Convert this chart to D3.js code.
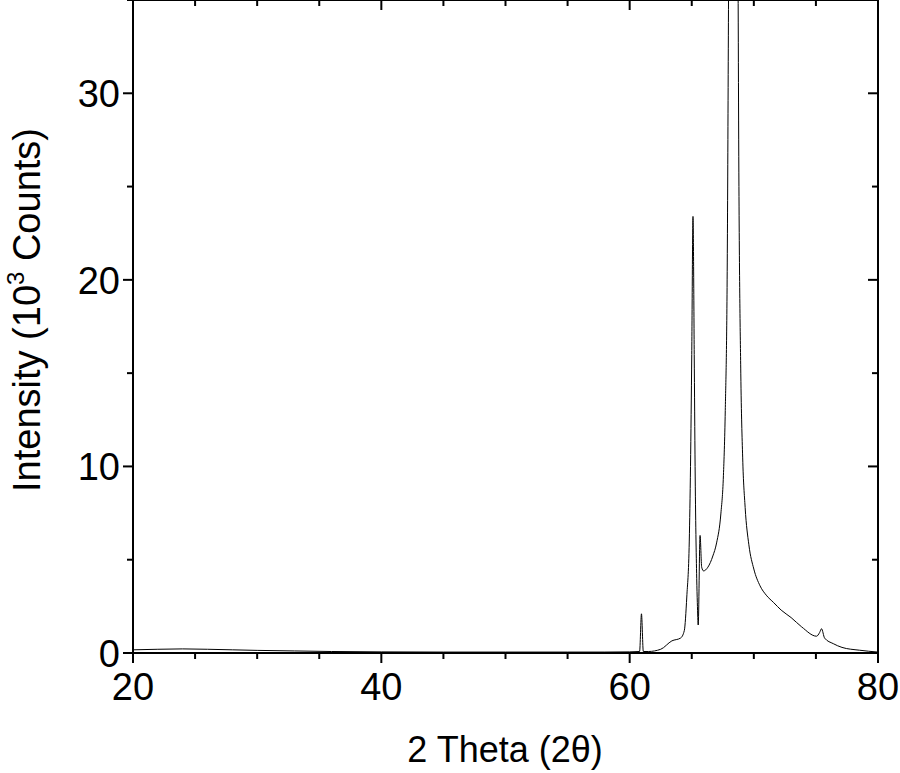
<!DOCTYPE html>
<html><head><meta charset="utf-8">
<script src="https://cdn.jsdelivr.net/npm/d3@7"></script>
<style>body{margin:0;background:#fff}text{font-family:"Liberation Sans",Arial,sans-serif}</style>
</head><body><svg id="c" width="900" height="773"></svg>
<script>
// 2 theta (deg) and intensity (10^3 counts)
var twoTheta = [20,22,24,26,28,30,33,36,40,45,50,55,58,60,60.8,60.95,61.1,61.5,62.5,63.4,64.1,64.4,64.6,64.8,64.9,65.0,65.1,65.2,65.27,65.4,65.45,65.52,65.67,65.8,65.95,66.3,66.7,67.0,67.35,67.55,67.7,67.85,68.0,68.3,68.7,68.8,68.95,69.1,69.3,69.6,70.0,70.5,71.0,71.6,72.2,73.0,73.85,75.05,75.3,75.45,75.7,76.4,77.1,78.5,80];
var intensity = [0.17,0.2,0.22,0.2,0.17,0.14,0.11,0.08,0.06,0.05,0.05,0.05,0.05,0.06,0.08,2.1,0.08,0.08,0.2,0.65,0.8,1.2,3,6,10,16,23.4,16,10,4,2.7,1.5,6.3,4.6,4.4,4.6,5.2,5.9,7.5,9.5,13,20,40,60,40,25,15,10.5,7.8,5.8,4.5,3.6,3.1,2.7,2.3,1.9,1.4,0.9,1.1,1.3,0.8,0.5,0.3,0.15,0.05];
var xTicks = [20,40,60,80];
var yTicks = [0,10,20,30];

var svg = d3.select('#c');
var m = {l:133, r:878, t:0, b:653};
var x = d3.scaleLinear().domain([20,80]).range([m.l,m.r]);
var y = d3.scaleLinear().domain([0,35]).range([m.b,m.t]);

svg.append('clipPath').attr('id','clip').append('rect')
	.attr('x',m.l).attr('y',m.t).attr('width',m.r-m.l).attr('height',m.b-m.t);

var line = d3.line().curve(d3.curveMonotoneX)
	.x(function(d){return x(d[0]);}).y(function(d){return y(d[1]);});
svg.append('path').datum(d3.zip(twoTheta,intensity))
	.attr('clip-path','url(#clip)')
	.attr('d',line).attr('fill','none').attr('stroke','#000').attr('stroke-width',1);

// axes: ticks on all four sides, pointing inward on top/right
var ax = svg.append('g').attr('stroke','#000').attr('fill','none');
ax.append('rect').attr('x',m.l).attr('y',m.t).attr('width',m.r-m.l).attr('height',m.b-m.t).attr('stroke-width',2);
d3.range(20,81,5).forEach(function(v){
	var len = v%20===0 ? 10 : 6;
	ax.append('line').attr('x1',x(v)).attr('x2',x(v)).attr('y1',m.b).attr('y2',m.b+len).attr('stroke-width',2);
	ax.append('line').attr('x1',x(v)).attr('x2',x(v)).attr('y1',m.t).attr('y2',m.t+len).attr('stroke-width',2);
});
d3.range(0,36,5).forEach(function(v){
	var len = v%10===0 ? 10 : 6;
	ax.append('line').attr('y1',y(v)).attr('y2',y(v)).attr('x1',m.l).attr('x2',m.l-len).attr('stroke-width',2);
	ax.append('line').attr('y1',y(v)).attr('y2',y(v)).attr('x1',m.r).attr('x2',m.r-len).attr('stroke-width',2);
});

svg.selectAll('text.xt').data(xTicks).enter().append('text')
	.attr('x',function(d){return x(d);}).attr('y',700).attr('text-anchor','middle')
	.attr('font-size',38).text(String);
svg.selectAll('text.yt').data(yTicks).enter().append('text')
	.attr('x',120).attr('y',function(d){return y(d)+14;}).attr('text-anchor','end')
	.attr('font-size',38).text(String);

svg.append('text').attr('x',505).attr('y',762).attr('text-anchor','middle')
	.attr('font-size',36).text('2 Theta (2θ)');
var yl = svg.append('text').attr('transform','translate(40,310) rotate(-90)')
	.attr('text-anchor','middle').attr('font-size',38);
yl.append('tspan').text('Intensity (10');
yl.append('tspan').attr('font-size',24).attr('dy',-16).text('3');
yl.append('tspan').attr('dy',16).text(' Counts)');
</script></body></html>
